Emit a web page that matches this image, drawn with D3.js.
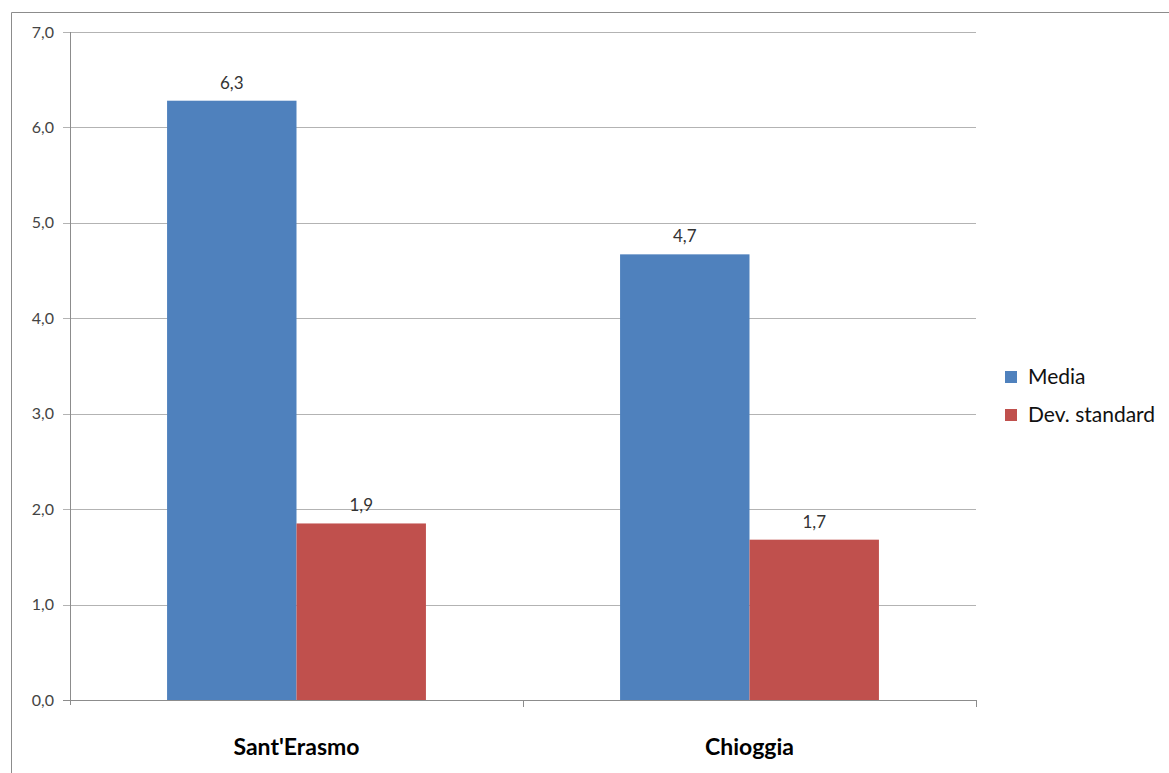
<!DOCTYPE html>
<html>
<head>
<meta charset="utf-8">
<script src="https://cdn.jsdelivr.net/npm/d3@7"></script>
<style>
  body { margin: 0; background: #fff; }
  svg { display: block; font-family: Lato, "Open Sans", "Noto Sans", sans-serif; }
</style>
</head>
<body>
<div id="chart"></div>
<script>
// data
const categories = ["Sant'Erasmo", "Chioggia"];
const seriesNames = ["Media", "Dev. standard"];
const media = [6.28, 4.67];
const devStandard = [1.85, 1.68];
const yTicks = [0, 1, 2, 3, 4, 5, 6, 7];

const colors = ["#4f81bd", "#c0504d"];

const width = 1169, height = 773;
const plot = {left: 70, right: 976, top: 32, bottom: 700};

const svg = d3.select("#chart").append("svg")
    .attr("width", width)
    .attr("height", height);

// outer chart border (only top and left visible in the photo)
svg.append("path")
    .attr("d", "M11.5," + height + "V12.5H" + width)
    .attr("fill", "none")
    .attr("stroke", "#8c8c8c")
    .attr("stroke-width", 1);

const y = d3.scaleLinear().domain([0, 7]).range([plot.bottom, plot.top]);
const x0 = d3.scaleBand().domain(categories).range([plot.left, plot.right]).paddingInner(0).paddingOuter(0);
// two bars in the middle of each band, gap width 150% (3/4 bar on each side)
const x1 = d3.scaleBand().domain(seriesNames).range([0, x0.bandwidth()]).paddingInner(0).paddingOuter(0.75);

// gridlines
svg.append("g")
    .selectAll("line")
    .data(yTicks.filter(d => d > 0))
    .enter().append("line")
        .attr("x1", plot.left - 7)
        .attr("x2", plot.right)
        .attr("y1", d => Math.round(y(d)) + 0.5)
        .attr("y2", d => Math.round(y(d)) + 0.5)
        .attr("stroke", "#b3b3b3");

// y tick labels
svg.append("g")
    .selectAll("text")
    .data(yTicks)
    .enter().append("text")
        .attr("x", 54)
        .attr("y", d => y(d))
        .attr("dy", "0.35em")
        .attr("text-anchor", "end")
        .attr("font-size", 16)
        .attr("fill", "#444")
        .text(d => d3.format(".1f")(d).replace(".", ","));

// bars
const rows = categories.map((c, i) => ({cat: c, vals: [media[i], devStandard[i]]}));
const groups = svg.append("g")
    .selectAll("g")
    .data(rows)
    .enter().append("g")
        .attr("transform", d => "translate(" + x0(d.cat) + ",0)");

groups.selectAll("rect")
    .data(d => d.vals.map((v, j) => ({name: seriesNames[j], v: v, j: j})))
    .enter().append("rect")
        .attr("x", d => x1(d.name))
        .attr("width", x1.bandwidth())
        .attr("y", d => y(d.v))
        .attr("height", d => y(0) - y(d.v))
        .attr("fill", d => colors[d.j]);

groups.selectAll("text")
    .data(d => d.vals.map((v, j) => ({name: seriesNames[j], v: v, j: j})))
    .enter().append("text")
        .attr("x", d => x1(d.name) + x1.bandwidth() / 2)
        .attr("y", d => y(d.v) - 12)
        .attr("text-anchor", "middle")
        .attr("font-size", 17)
        .attr("fill", "#333")
        .text(d => d3.format(".1f")(d.v).replace(".", ","));

// axes
const axisColor = "#8c8c8c";
svg.append("line")
    .attr("x1", plot.left + 0.5).attr("x2", plot.left + 0.5)
    .attr("y1", plot.top).attr("y2", plot.bottom + 5)
    .attr("stroke", axisColor);
svg.append("line")
    .attr("x1", plot.left - 7).attr("x2", plot.right + 0.5)
    .attr("y1", plot.bottom + 0.5).attr("y2", plot.bottom + 0.5)
    .attr("stroke", axisColor);
svg.append("g")
    .selectAll("line")
    .data(categories.map(c => x0(c)).concat([plot.right]).slice(1))
    .enter().append("line")
        .attr("x1", d => Math.round(d) + 0.5)
        .attr("x2", d => Math.round(d) + 0.5)
        .attr("y1", plot.bottom)
        .attr("y2", plot.bottom + 7)
        .attr("stroke", axisColor);

// category labels
svg.append("g")
    .selectAll("text")
    .data(categories)
    .enter().append("text")
        .attr("x", d => x0(d) + x0.bandwidth() / 2)
        .attr("y", 755)
        .attr("text-anchor", "middle")
        .attr("font-size", 23)
        .attr("font-weight", "bold")
        .attr("fill", "#000")
        .text(d => d);

// legend
const legend = svg.append("g")
    .selectAll("g")
    .data(seriesNames)
    .enter().append("g")
        .attr("transform", (d, i) => "translate(1005," + (371 + i * 38) + ")");
legend.append("rect")
    .attr("width", 12)
    .attr("height", 12)
    .attr("fill", (d, i) => colors[i]);
legend.append("text")
    .attr("x", 23)
    .attr("y", 6)
    .attr("dy", "0.35em")
    .attr("font-size", 21)
    .attr("fill", "#111")
    .text(d => d);
</script>
</body>
</html>
